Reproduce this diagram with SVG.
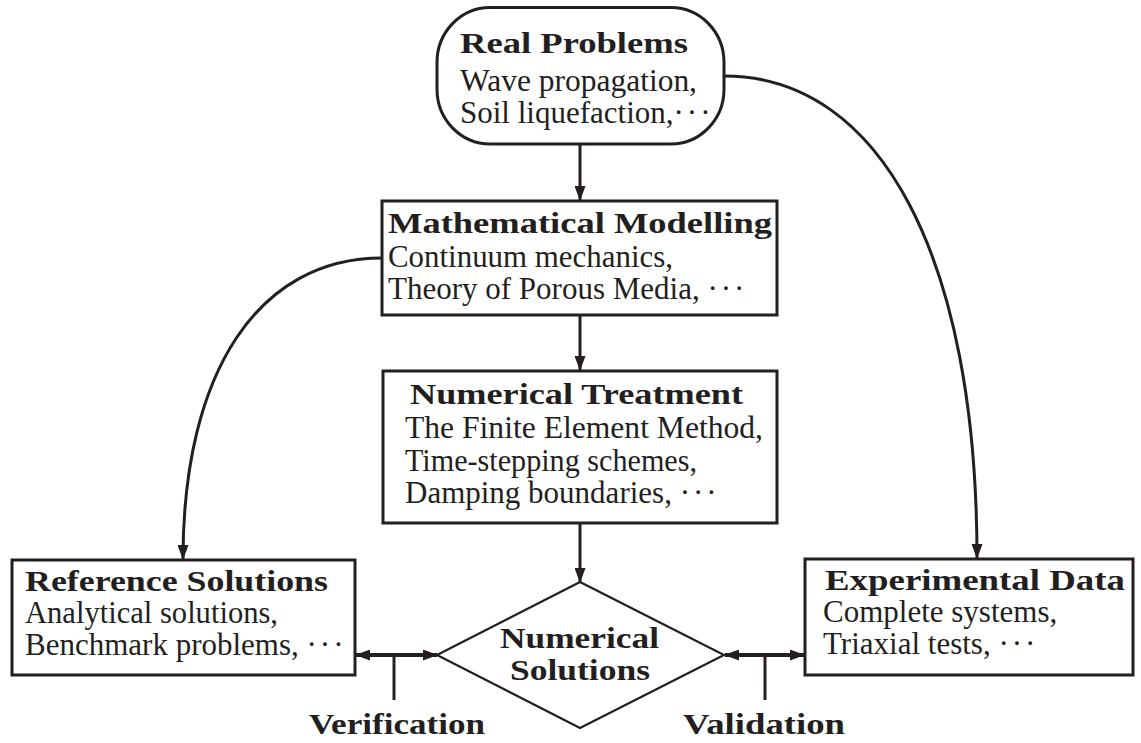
<svg xmlns="http://www.w3.org/2000/svg" width="1141" height="743" viewBox="0 0 1141 743">
<style>
  .box { fill: #ffffff; stroke: #231f20; stroke-width: 3; }
  .dia { fill: #ffffff; stroke: #231f20; stroke-width: 2.2; }
  .conn { fill: none; stroke: #231f20; stroke-width: 3; }
  .thick { fill: none; stroke: #231f20; stroke-width: 4; }
  .t { font-family: "Liberation Serif", "Times New Roman", serif; font-size: 31px; fill: #231f20; }
  .b { font-family: "Liberation Serif", "Times New Roman", serif; font-size: 30px; font-weight: bold; fill: #231f20; }
  .dots { letter-spacing: 3px; }
</style>
<defs>
  <marker id="ah" markerUnits="userSpaceOnUse" markerWidth="15" markerHeight="11" refX="14" refY="5.5" orient="auto-start-reverse">
    <path d="M0,0 L15,5.5 L0,11 z" fill="#231f20"/>
  </marker>
</defs>
<rect width="1141" height="743" fill="#ffffff"/>

<g id="connectors">
  <path class="conn" d="M580,144 L580,200" marker-end="url(#ah)"/>
  <path class="conn" d="M580,315 L580,370" marker-end="url(#ah)"/>
  <path class="conn" d="M580,523 L580,582" marker-end="url(#ah)"/>
  <path class="conn" d="M382,258 C259,258 183,371 183,559" marker-end="url(#ah)"/>
  <path class="conn" d="M724,76 C881,76 977,258 977,558" marker-end="url(#ah)"/>
  <path class="thick" d="M356,655 L437,655" marker-start="url(#ah)" marker-end="url(#ah)"/>
  <path class="thick" d="M725,655 L804,655" marker-start="url(#ah)" marker-end="url(#ah)"/>
  <path class="conn" d="M394,655 L394,700"/>
  <path class="conn" d="M765,655 L765,700"/>
</g>

<g id="real-problems">
  <rect class="box" x="437" y="7.5" width="287" height="136.5" rx="53" ry="55" stroke-width="2.5"/>
  <text class="b" x="460" y="53" textLength="228" lengthAdjust="spacingAndGlyphs">Real Problems</text>
  <text class="t" x="460" y="91" textLength="237" lengthAdjust="spacingAndGlyphs">Wave propagation,</text>
  <text class="t" x="460" y="123">Soil liquefaction,<tspan class="dots">···</tspan></text>
</g>

<g id="mathematical-modelling">
  <rect class="box" x="382" y="201" width="395" height="114"/>
  <text class="b" x="388" y="233" textLength="384" lengthAdjust="spacingAndGlyphs">Mathematical Modelling</text>
  <text class="t" x="388" y="267" textLength="285" lengthAdjust="spacingAndGlyphs">Continuum mechanics,</text>
  <text class="t" x="388" y="299">Theory of Porous Media, <tspan class="dots">···</tspan></text>
</g>

<g id="numerical-treatment">
  <rect class="box" x="383" y="371" width="394" height="152"/>
  <text class="b" x="410" y="404" textLength="333" lengthAdjust="spacingAndGlyphs">Numerical Treatment</text>
  <text class="t" x="405" y="438" textLength="358" lengthAdjust="spacingAndGlyphs">The Finite Element Method,</text>
  <text class="t" x="405" y="471" textLength="292" lengthAdjust="spacingAndGlyphs">Time-stepping schemes,</text>
  <text class="t" x="405" y="503">Damping boundaries, <tspan class="dots">···</tspan></text>
</g>

<g id="reference-solutions">
  <rect class="box" x="12" y="560" width="343" height="115"/>
  <text class="b" x="25" y="591" textLength="303" lengthAdjust="spacingAndGlyphs">Reference Solutions</text>
  <text class="t" x="25" y="623" textLength="253" lengthAdjust="spacingAndGlyphs">Analytical solutions,</text>
  <text class="t" x="25" y="655">Benchmark problems, <tspan class="dots">···</tspan></text>
</g>

<g id="experimental-data">
  <rect class="box" x="805" y="559" width="328" height="116"/>
  <text class="b" x="825" y="590" textLength="300" lengthAdjust="spacingAndGlyphs">Experimental Data</text>
  <text class="t" x="823" y="622">Complete systems,</text>
  <text class="t" x="823" y="654">Triaxial tests, <tspan class="dots">···</tspan></text>
</g>

<g id="numerical-solutions">
  <polygon class="dia" points="580,582 724,655 580,728 437,655"/>
  <text class="b" x="500" y="648" font-size="29" textLength="159" lengthAdjust="spacingAndGlyphs">Numerical</text>
  <text class="b" x="510" y="680" font-size="29" textLength="140" lengthAdjust="spacingAndGlyphs">Solutions</text>
</g>

<g id="labels">
  <text class="b" x="309" y="734" textLength="176" lengthAdjust="spacingAndGlyphs">Verification</text>
  <text class="b" x="683" y="734" textLength="162" lengthAdjust="spacingAndGlyphs">Validation</text>
</g>
</svg>
